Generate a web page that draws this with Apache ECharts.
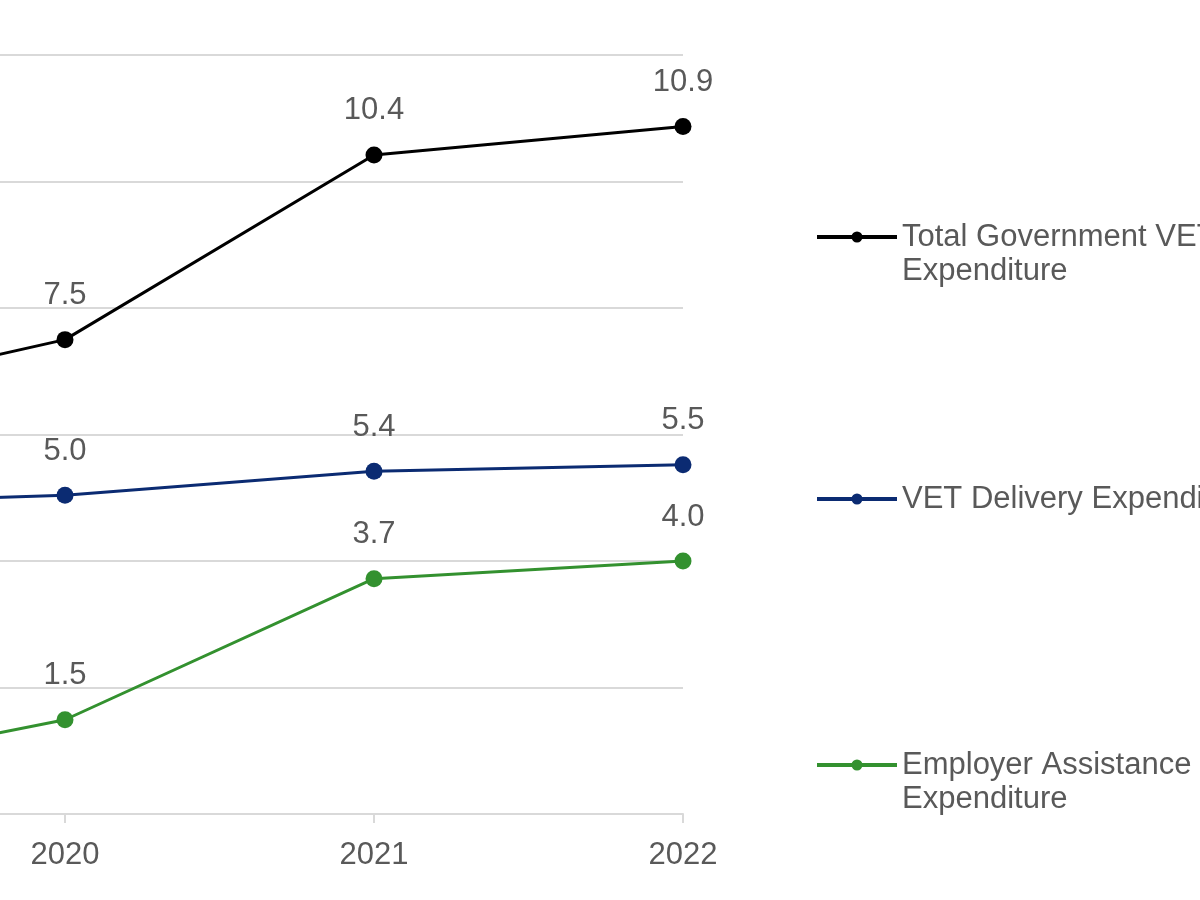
<!DOCTYPE html>
<html>
<head>
    <meta charset="utf-8">
    <title>VET Expenditure</title>
    <script src="https://cdnjs.cloudflare.com/ajax/libs/echarts/6.0.0/echarts.min.js"></script>
    <style>
        html, body {
            margin: 0;
            padding: 0;
            width: 1200px;
            height: 900px;
            overflow: hidden;
            background: #fff;
        }
        /* the chart is wider than the window and shifted left, so it is cropped like the reference */
        #chart {
            position: absolute;
            left: -300px;
            top: 0;
            width: 1500px;
            height: 900px;
        }
    </style>
</head>
<body>
    <div id="chart"></div>
    <script>
        const years = ['2019', '2020', '2021', '2022'];
        const totalVet = [6.4, 7.5, 10.42, 10.87];
        const vetDelivery = [4.88, 5.04, 5.42, 5.52];
        const employerAssist = [0.52, 1.49, 3.72, 4.0];
        const seriesNames = [
            'Total Government VET Expenditure',
            'VET Delivery Expenditure',
            'Employer Assistance Expenditure'
        ];
        // leading empty line keeps the legend icon level with the first text line
        const legendLabels = [
            '\nTotal Government VET\nExpenditure',
            'VET Delivery Expenditure',
            '\nEmployer Assistance\nExpenditure'
        ];
        const colors = ['#000000', '#0b2b72', '#33912f'];
        const valueTicks = { min: 0, max: 12, interval: 2 };

        const font = "'Liberation Sans', Arial, sans-serif";
        const lineH = 34;
        // legend icon: a line with a small dot in the middle
        const legendIcon = 'path://M0,3.5 L80,3.5 L80,7.5 L0,7.5 Z M34.5,5.5 A5.5,5.5 0 1,1 45.5,5.5 A5.5,5.5 0 1,1 34.5,5.5 Z';

        function makeSeries(name, data, color) {
            return {
                name: name,
                type: 'line',
                data: data,
                symbol: 'circle',
                symbolSize: 17,
                lineStyle: { color: color, width: 3 },
                itemStyle: { color: color },
                label: {
                    show: true,
                    position: 'top',
                    distance: 20,
                    color: '#595959',
                    fontFamily: font,
                    fontSize: 31,
                    formatter: p => p.value.toFixed(1)
                }
            };
        }

        function makeLegend(i, top) {
            return {
                data: [{ name: seriesNames[i], icon: legendIcon }],
                left: 1112,
                top: top,
                itemWidth: 80,
                itemHeight: 11,
                itemGap: 0,
                formatter: () => legendLabels[i],
                selectedMode: false,
                textStyle: {
                    color: '#595959',
                    fontFamily: font,
                    fontSize: 31,
                    lineHeight: lineH
                }
            };
        }

        const chart = echarts.init(document.getElementById('chart'));
        const option = {
            animation: false,
            grid: {
                left: 56,
                right: 517,
                top: 55,
                bottom: 86
            },
            legend: [
                makeLegend(0, 181),
                makeLegend(1, 477),
                makeLegend(2, 709)
            ],
            xAxis: {
                type: 'category',
                data: years,
                boundaryGap: false,
                axisLine: { lineStyle: { color: '#d9d9d9', width: 2 } },
                axisTick: { show: true, length: 9, lineStyle: { color: '#d9d9d9', width: 2 } },
                axisLabel: {
                    color: '#595959',
                    fontFamily: font,
                    fontSize: 31,
                    margin: 26
                }
            },
            yAxis: {
                type: 'value',
                min: valueTicks.min,
                max: valueTicks.max,
                interval: valueTicks.interval,
                axisLine: { show: false },
                axisTick: { show: false },
                axisLabel: { show: false },
                splitLine: { lineStyle: { color: '#d9d9d9', width: 2 } }
            },
            series: [
                makeSeries(seriesNames[0], totalVet, colors[0]),
                makeSeries(seriesNames[1], vetDelivery, colors[1]),
                makeSeries(seriesNames[2], employerAssist, colors[2])
            ]
        };
        chart.setOption(option);
    </script>
</body>
</html>
